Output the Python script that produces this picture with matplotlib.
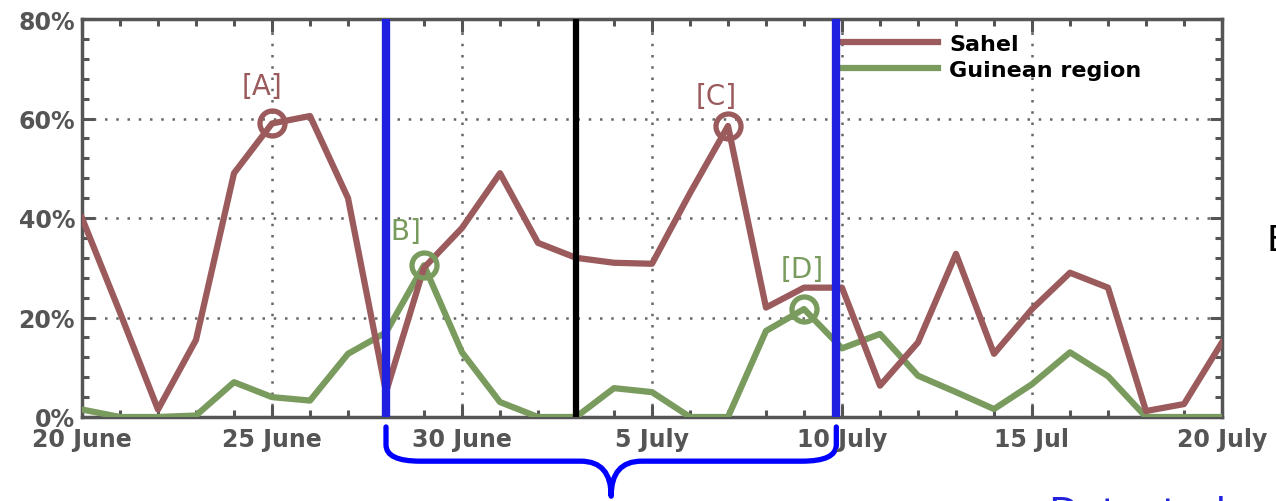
import matplotlib.pyplot as plt
import matplotlib.transforms as mtransforms
from matplotlib.path import Path
from matplotlib.patches import PathPatch
from matplotlib.ticker import MultipleLocator, FixedLocator
import numpy as np

# daily share of detected events, 20 June .. 20 July
days = np.arange(31)
sahel = [40, 21, 1.5, 15.5, 49, 59, 60.5, 44, 5, 30, 38, 49, 35, 32, 31, 30.8,
         45, 58.5, 22, 26, 26, 6.3, 15, 32.8, 12.7, 21.7, 29, 26, 1.2, 2.6, 15]
guinean = [1.5, 0, 0, 0.3, 7, 4, 3.3, 12.7, 17, 30.5, 13, 3, 0, 0, 5.8, 5,
           0, 0, 17.3, 21.7, 13.8, 16.7, 8.3, 5, 1.6, 6.6, 13, 8.2, 0, 0, 0]
tick_days = [0, 5, 10, 15, 20, 25, 30]
tick_labels = ["20 June", "25 June", "30 June", "5 July", "10 July", "15 Jul", "20 July"]

# highlighted peaks: (label, series, day index, label x, label y)
peaks = [("[A]", "sahel", 5, 4.75, 66.5),
         ("[B]", "guinean", 9, 8.4, 37.4),
         ("[C]", "sahel", 17, 16.7, 64.5),
         ("[D]", "guinean", 19, 18.95, 29.7)]

# period markers
window_start = 8.0
window_end = 19.85
onset_day = 13.0

sahel_col = "#9b5a5c"
guin_col = "#7a9b5e"
axis_col = "#555555"

fig = plt.figure(figsize=(12.76, 5.02), dpi=100)
ax = fig.add_axes([82 / 1276, 84 / 502, 1140 / 1276, 398 / 502])

gl, = ax.plot(days, guinean, color=guin_col, lw=4.5, label="Guinean region", zorder=3)
sl, = ax.plot(days, sahel, color=sahel_col, lw=4.5, label="Sahel", zorder=4)

series = {"sahel": (sahel, sahel_col), "guinean": (guinean, guin_col)}
for lab, key, d, tx, ty in peaks:
    vals, col = series[key]
    ax.plot(days[d], vals[d], "o", ms=18, mfc="none", mec=col, mew=3.8, zorder=5)
    ax.text(tx, ty, lab, color=col, fontsize=20, ha="center", va="center",
            fontweight="medium", zorder=5)

ax.set_xlim(0, 30)
ax.set_ylim(0, 80)
ax.xaxis.set_major_locator(FixedLocator(tick_days))
ax.set_xticklabels(tick_labels)
ax.xaxis.set_minor_locator(MultipleLocator(1))
ax.yaxis.set_major_locator(MultipleLocator(20))
ax.yaxis.set_minor_locator(MultipleLocator(4))
ax.set_yticklabels([f"{int(v)}%" for v in ax.get_yticks()])

ax.tick_params(which="both", direction="in", top=True, right=True, color=axis_col,
               width=2.2, labelcolor=axis_col, labelsize=17)
ax.tick_params(which="major", length=9, pad=5)
ax.tick_params(axis="x", which="major", pad=7)
ax.tick_params(which="minor", length=5)
for t in ax.get_xticklabels() + ax.get_yticklabels():
    t.set_fontweight("bold")
for s in ax.spines.values():
    s.set_color(axis_col)
    s.set_linewidth(2.5)

ax.grid(True, which="major", color="#666666", linestyle=(0, (1, 3.5)), lw=1.8)

# window boundaries and onset
ax.axvline(window_start, color="#2020e0", lw=6, zorder=6)
ax.axvline(window_end, color="#2020e0", lw=6, zorder=6)
ax.axvline(onset_day, color="black", lw=4.5, zorder=6)

leg = ax.legend(handles=[sl, gl], loc="upper left",
                bbox_to_anchor=(0.665, 0.962), frameon=False, fontsize=16,
                handlelength=4.4, handletextpad=0.5, labelspacing=0.25,
                borderpad=0, borderaxespad=0)
for t in leg.get_texts():
    t.set_fontweight("bold")

# brace under the window
trans = mtransforms.blended_transform_factory(ax.transData, ax.transAxes)
mid = (window_start + window_end) / 2
y0, yh, yt = -0.025, -0.111, -0.199
verts = [(window_start, y0), (window_start, -0.07),
         (window_start, yh), (window_start + 0.9, yh),
         (mid - 0.8, yh),
         (mid, yh), (mid, yt),
         (mid, yh), (mid + 0.8, yh),
         (window_end - 0.9, yh),
         (window_end, yh), (window_end, -0.07),
         (window_end, y0)]
codes = [Path.MOVETO, Path.LINETO, Path.CURVE3, Path.CURVE3, Path.LINETO,
         Path.CURVE3, Path.CURVE3, Path.CURVE3, Path.CURVE3, Path.LINETO,
         Path.CURVE3, Path.CURVE3, Path.LINETO]
ax.add_patch(PathPatch(Path(verts, codes), transform=trans, fill=False,
                       edgecolor="#0000ff", lw=3.8, capstyle="round",
                       joinstyle="round", clip_on=False))

fig.text(1267 / 1276, 1 - 241 / 502, "E", fontsize=26, ha="left", va="center",
         color="black")
fig.text(1048 / 1276, 1 - 496 / 502, "Detected", fontsize=28, ha="left", va="top",
         color="#2222dd")

fig.savefig("out.png", dpi=100)
